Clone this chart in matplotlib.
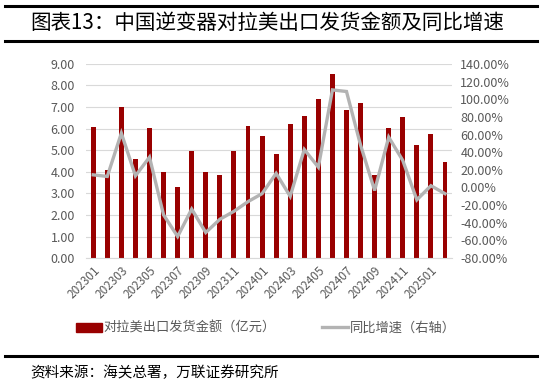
import matplotlib
matplotlib.use("Agg")
from matplotlib import pyplot as plt
from matplotlib.lines import Line2D
from matplotlib.patches import Patch

plt.rcParams['font.family'] = ['Noto Sans CJK SC', 'DejaVu Sans']

# monthly data, 202301 - 202502
months = ['202301', '202302', '202303', '202304', '202305', '202306',
          '202307', '202308', '202309', '202310', '202311', '202312',
          '202401', '202402', '202403', '202404', '202405', '202406',
          '202407', '202408', '202409', '202410', '202411', '202412',
          '202501', '202502']
amount = [6.07, 4.09, 7.02, 4.58, 6.03, 4.01, 3.29, 4.98, 4.01, 3.84, 4.98, 6.12,
          5.67, 4.81, 6.22, 6.59, 7.36, 8.53, 6.87, 7.18, 3.86, 6.03, 6.56, 5.25,
          5.76, 4.44]
yoy = [14.3, 12.5, 61.5, 13.2, 34.3, -31.0, -55.5, -24.5, -51.0, -36.0, -27.0, -16.0,
       -7.0, 16.0, -10.0, 43.0, 23.0, 110.5, 108.7, 48.0, -3.4, 57.0, 30.6, -14.0,
       2.0, -7.0]

bar_color = '#990000'
line_color = '#b3b3b3'
tick_color = '#595959'

fig = plt.figure(figsize=(5.42, 3.87), dpi=100)
ax = fig.add_axes([0.159, 0.333, 0.675, 0.502])
ax2 = ax.twinx()

x = list(range(len(months)))
ax.bar(x, amount, width=0.35, color=bar_color, zorder=2)
ax2.plot(x, yoy, color=line_color, lw=2.4, solid_joinstyle='miter')

ax.set_xlim(-0.5, len(months) - 0.5)
ax.set_ylim(0, 9)
ax.set_yticks(range(10))
ax.set_yticklabels(['%.2f' % v for v in range(10)])
ax2.set_ylim(-80, 140)
ax2.set_yticks(range(-80, 141, 20))
ax2.set_yticklabels(['%.2f%%' % v for v in range(-80, 141, 20)])

ax.set_xticks(x[::2])
ax.set_xticklabels(months[::2], rotation=45, ha='right', rotation_mode='anchor')

ax.grid(axis='y', color='#d9d9d9', lw=0.8, zorder=0)
for a in (ax, ax2):
    for s in a.spines.values():
        s.set_visible(False)
    a.tick_params(length=0, colors=tick_color, labelsize=9)
ax.spines['bottom'].set_visible(True)
ax.spines['bottom'].set_color('#d9d9d9')
ax.tick_params(axis='x', labelsize=8.5, pad=4)
ax.tick_params(axis='y', pad=8)
ax2.tick_params(axis='y', pad=6)

handles = [Patch(color=bar_color), Line2D([], [], color=line_color, lw=2.4)]
fig.legend(handles, ['对拉美出口发货金额（亿元）', '同比增速（右轴）'],
           loc='center', bbox_to_anchor=(0.49, 0.152), ncol=2, frameon=False,
           fontsize=9.5, labelcolor=tick_color, columnspacing=3.5,
           handlelength=2.0, handletextpad=0.1)

# header / footer rules
fig.add_artist(Line2D([0.01, 0.99], [0.984, 0.984], color='black', lw=2.2))
fig.add_artist(Line2D([0.01, 0.99], [0.894, 0.894], color='black', lw=2.2))
fig.add_artist(Line2D([0.01, 0.99], [0.080, 0.080], color='black', lw=2.2))
fig.text(0.055, 0.94, '图表13：中国逆变器对拉美出口发货金额及同比增速',
         fontsize=14.8, va='center', ha='left', fontweight='light')
fig.text(0.055, 0.036, '资料来源：海关总署，万联证券研究所',
         fontsize=10.5, va='center', ha='left', style='italic')

fig.savefig('out.png', dpi=100)
